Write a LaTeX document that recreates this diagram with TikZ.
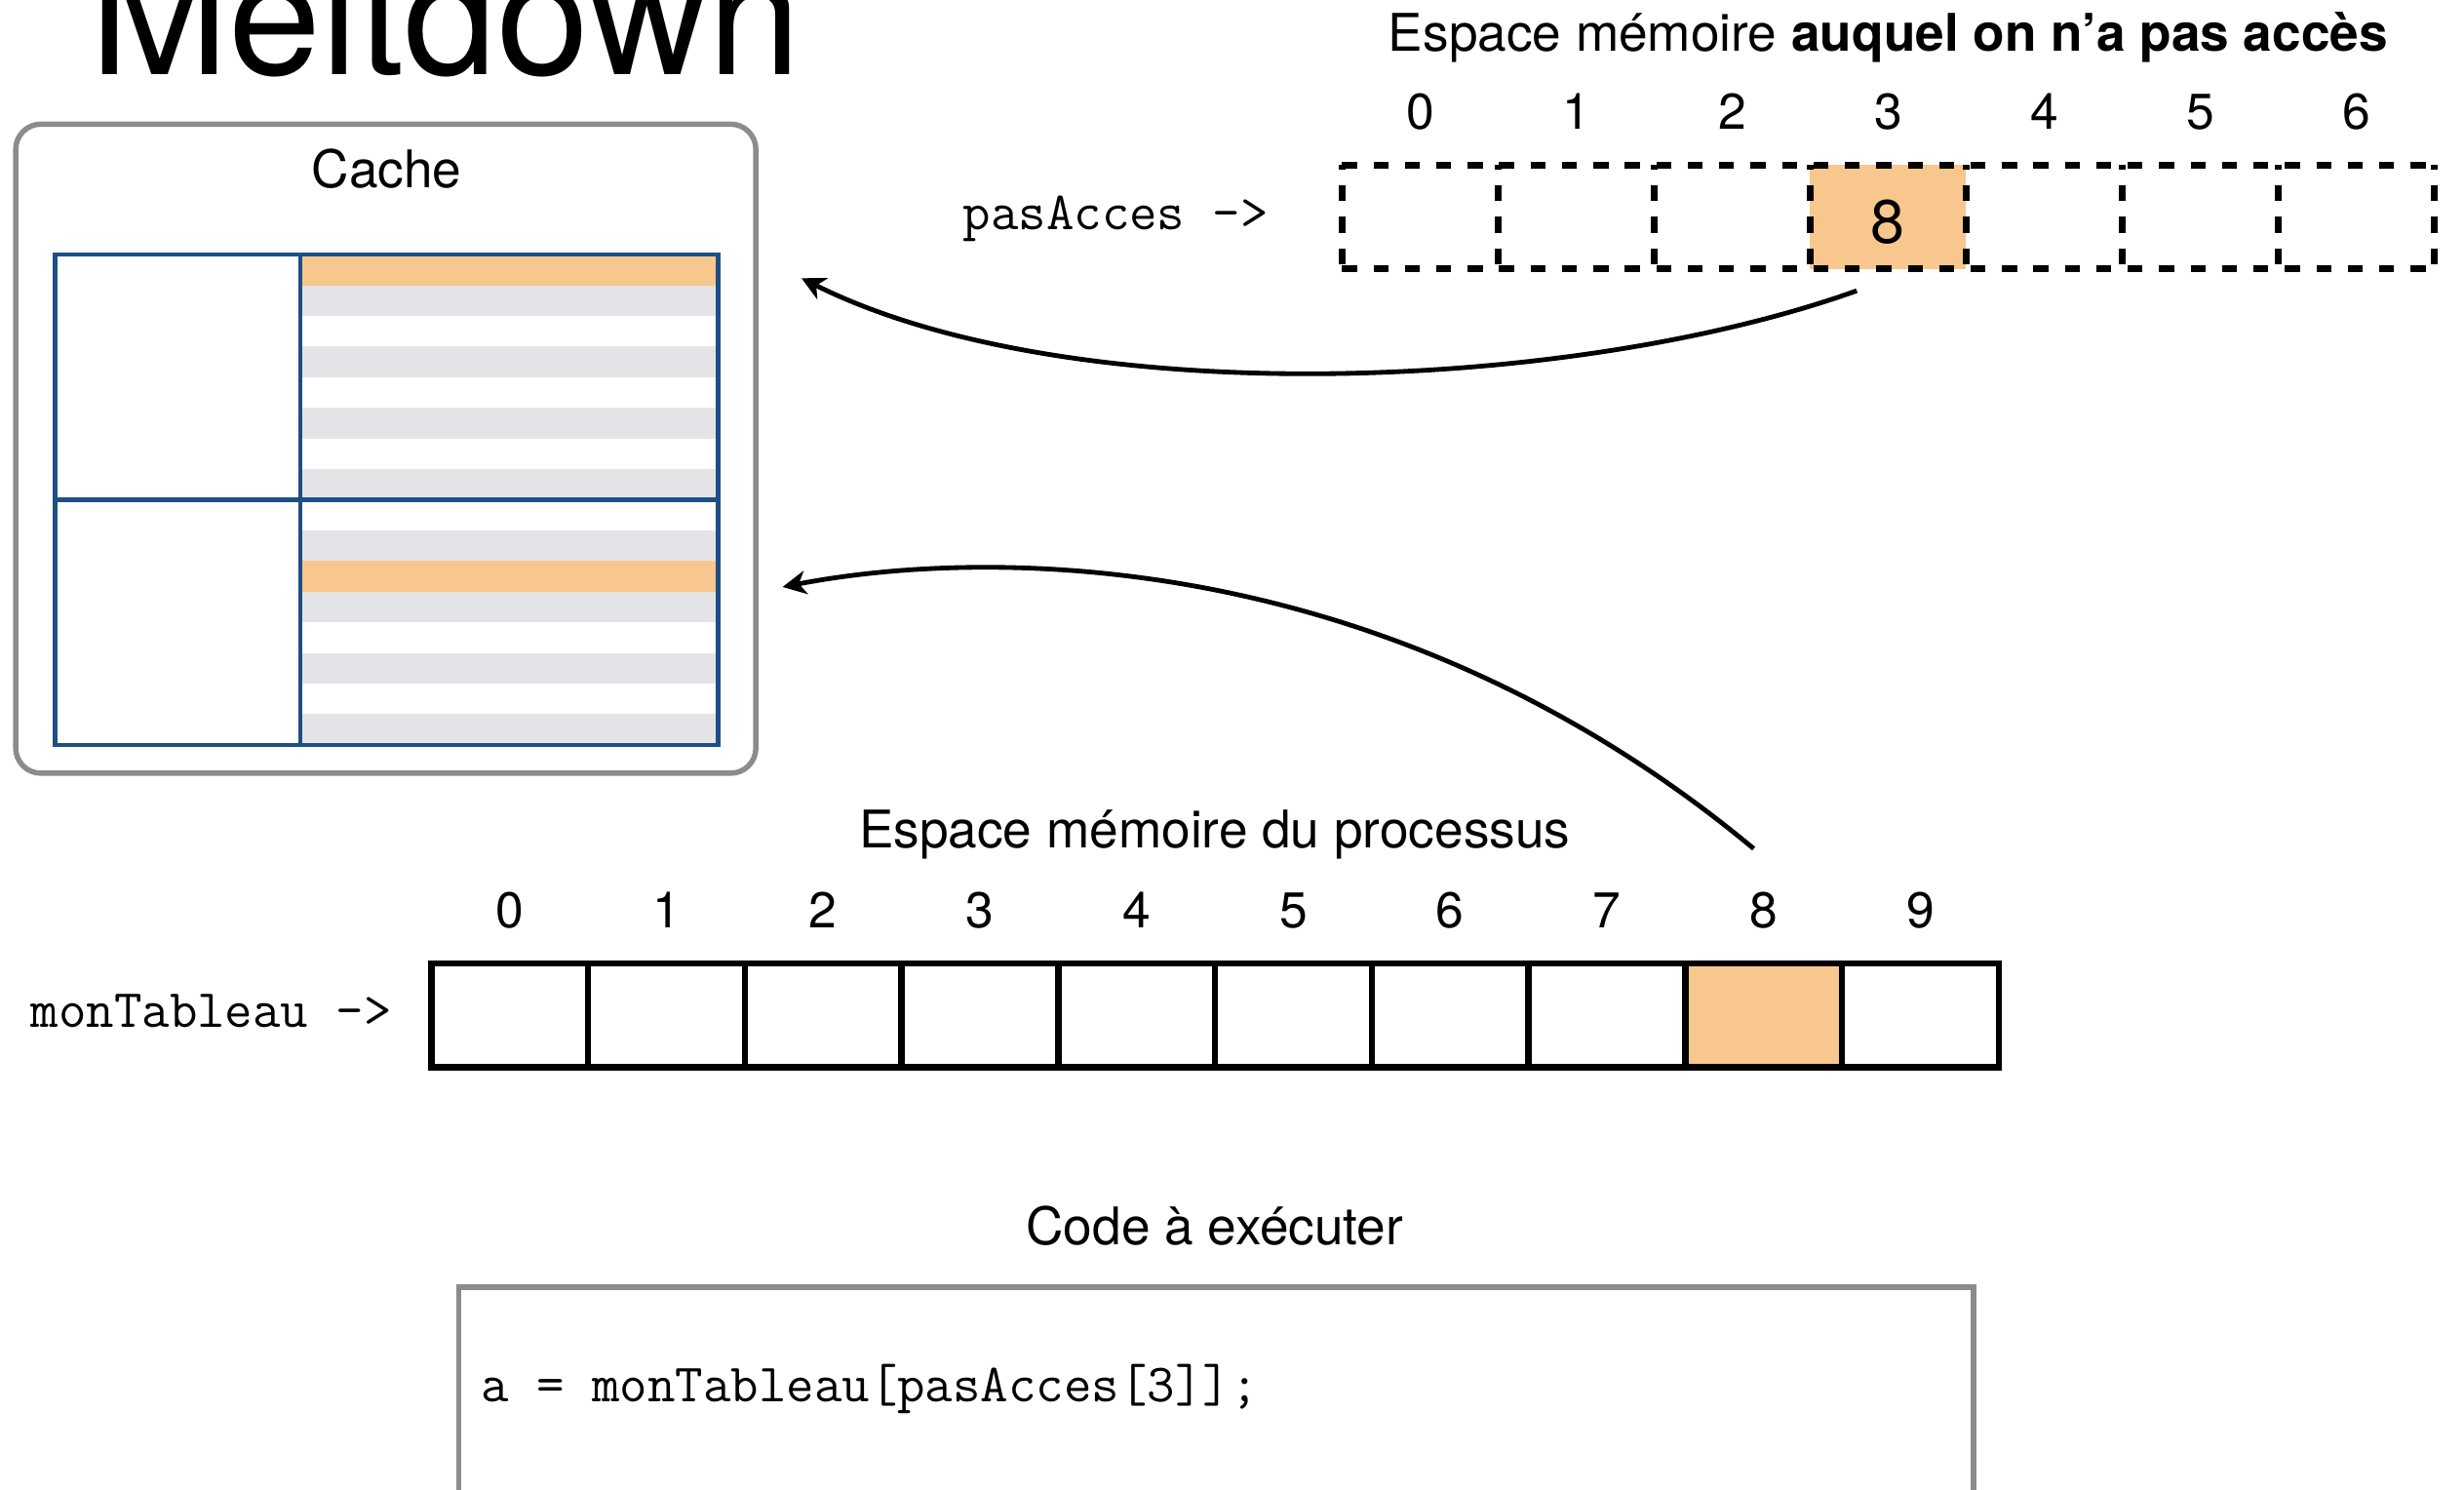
\documentclass[tikz,border=0pt]{standalone}
\usepackage{fontspec}
\setmainfont{TeX Gyre Heros}
\usetikzlibrary{arrows.meta}
\definecolor{cellorange}{HTML}{F8C78D}
\definecolor{stripegray}{HTML}{E3E4E7}
\definecolor{cacheblue}{HTML}{1F4E85}
\definecolor{boxgray}{HTML}{8A8C90}
\newcommand\fsz[1]{\fontsize{#1}{#1}\selectfont}
\begin{document}
\begin{tikzpicture}[x=1pt,y=-1pt,
  lbl/.style={font=\fsz{33}, inner sep=0, anchor=base},
  idx/.style={font=\fsz{32}, inner sep=0, anchor=base},
  codetxt/.style={font=\ttfamily\fsz{34.3}, inner sep=0, anchor=base},
  memcell/.style={draw=black, line width=4pt, minimum width=99.75pt, minimum height=66pt, inner sep=0, outer sep=0},
  secretcell/.style={minimum width=99.3pt, minimum height=66pt, inner sep=0, outer sep=0},
  dashH/.style={line width=4.5pt, dash pattern=on 9.5pt off 10.5pt},
  dashV/.style={line width=4.5pt, dash pattern=on 10pt off 10pt, dash phase=7pt},
  gridcell/.style={draw=cacheblue, line width=2.6pt, inner sep=0, outer sep=0},
  graybox/.style={draw=boxgray, line width=3.4pt, fill=white, inner sep=0, outer sep=0},
  arr/.style={line width=3pt, -{Stealth[length=15pt,width=15pt,inset=4.5pt]}}
]
\useasboundingbox (0,0) rectangle (1568,948);
\clip (0,0) rectangle (1568,948);

% Title
\node[font=\fsz{106}, inner sep=0, anchor=base] (title) at (283.5,47.6) {Meltdown};

% Cache box
\node[graybox, rounded corners=16pt, minimum width=471pt, minimum height=413pt] (cachebox) at (245.5,285.5) {};
\node[lbl] (cachelbl) at (246,119.6) {Cache};

% stripes
\foreach \k in {1,3,5,7}{
  \fill[stripegray] (191,{162+\k*19.5}) rectangle (457,{162+\k*19.5+19.5});
  \fill[stripegray] (191,{318+\k*19.5}) rectangle (457,{318+\k*19.5+19.5});
}
\fill[cellorange] (191,162) rectangle (457,181.5);
\fill[cellorange] (191,357) rectangle (457,376.5);

\node[gridcell, minimum width=156pt, minimum height=156pt] (tagtop) at (113,240) {};
\node[gridcell, minimum width=266pt, minimum height=156pt] (datatop) at (324,240) {};
\node[gridcell, minimum width=156pt, minimum height=156pt] (tagbot) at (113,396) {};
\node[gridcell, minimum width=266pt, minimum height=156pt] (databot) at (324,396) {};

% Inaccessible memory
\node[lbl] (toptitle) at (1201.5,32.5) {Espace mémoire \textbf{auquel on n’a pas accès}};
\foreach \i in {0,...,6}{
  \node[secretcell] (t\i) at ({854+49.65+\i*99.3},138) {};
  \node[idx] (ti\i) at ({854+49.65+\i*99.3},82.5) {\i};
}
\node[secretcell, fill=cellorange] (t3) at ({854+49.65+3*99.3},138) {};
\node[font=\fsz{39}, inner sep=0, anchor=base] (secret) at (t3 |- 0,155) {8};
\draw[dashH] (t0.north west) -- (t6.north east);
\draw[dashH] (t0.south west) -- (t6.south east);
\foreach \i in {0,...,6}{
  \draw[dashV] (t\i.north west) -- (t\i.south west);
}
\draw[dashV] (t6.north east) -- (t6.south east);
\node[codetxt] (paslbl) at (710,146.4) {pasAcces ->};

% Process memory
\node[lbl] (proctitle) at (773,539.8) {Espace mémoire du processus};
\foreach \i in {0,...,9}{
  \node[memcell] (b\i) at ({274.5+49.875+\i*99.75},646) {};
  \node[idx] (bi\i) at ({274.5+49.875+\i*99.75},590.5) {\i};
}
\node[memcell, fill=cellorange] (b8) at ({274.5+49.875+8*99.75},646) {};
\node[codetxt] (monlbl) at (134.5,653.5) {monTableau ->};

% Code
\node[lbl] (codetitle) at (773,792) {Code à exécuter};
\node[graybox, minimum width=964pt, minimum height=190pt] (codebox) at (774,914) {};
\node[codetxt, anchor=base west] (codeline) at (306,892) {a = monTableau[pasAcces[3]];};

% Arrows
\coordinate (a1s) at ([shift={(-20,14)}]t3.south);
\coordinate (a1e) at ([shift={(29,98)}]cachebox.north east);
\draw[arr] (a1s) .. controls (1000,250) and (680,262) .. (a1e);
\coordinate (a2s) at ([shift={(-6.4,-73)}]b8.north);
\coordinate (a2e) at ([shift={(17,88)}]cachebox.east);
\draw[arr] (a2s) .. controls (885,348) and (630,348) .. (a2e);
\end{tikzpicture}
\end{document}
